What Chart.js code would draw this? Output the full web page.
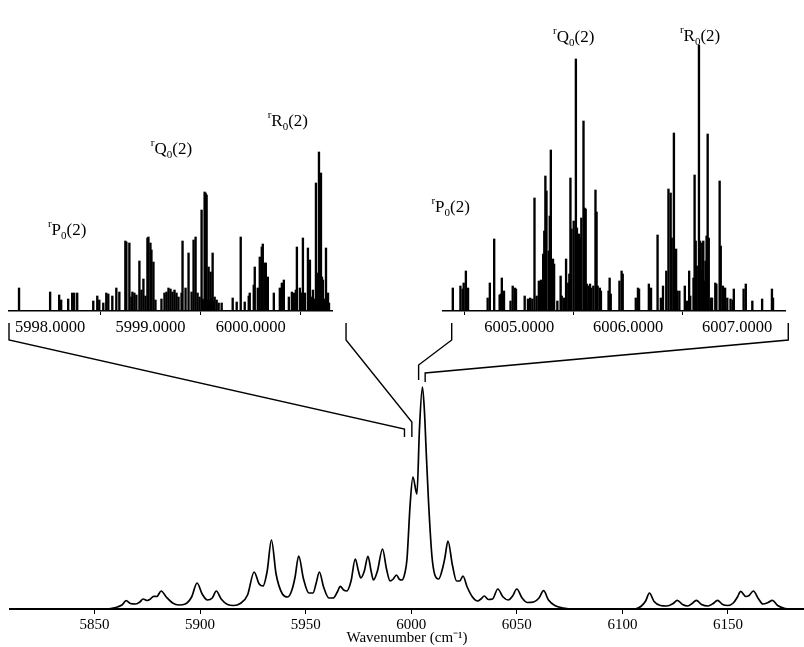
<!DOCTYPE html>
<html>
<head>
<meta charset="utf-8">
<script src="https://cdn.jsdelivr.net/npm/chart.js@4.4.1/dist/chart.umd.min.js"></script>
<style>
  body { margin: 0; background: #fff; }
  #wrap { position: relative; width: 804px; height: 647px; overflow: hidden; }
  canvas { position: absolute; }
</style>
</head>
<body>
<div id="wrap">
  <canvas id="mainChart" width="804" height="647" style="left:0;top:0"></canvas>
  <canvas id="leftInset" width="340" height="345" style="left:0;top:0"></canvas>
  <canvas id="rightInset" width="390" height="345" style="left:400px;top:0"></canvas>
</div>
<script>
const SERIF = "'Liberation Serif', 'Times New Roman', serif";

// ---- main spectrum: [wavenumber, intensity]
const spectrum = [
  [5810,0],[5856,0],[5860,1.5],[5863,4],[5865,8.3],[5867,5.5],[5869.5,5],[5871.5,7],[5873,10],
  [5875,8.5],[5876.5,10],[5878,12.7],[5879.5,12.5],[5881.6,18],[5884,12],[5887,6],[5890,4],
  [5893,5],[5896,12],[5898.6,26],[5901,15],[5903.5,9],[5905.8,11],[5907.7,18],[5910,10],
  [5913,4.5],[5916,3.5],[5919,5.5],[5922.5,14],[5925.6,37],[5928,25],[5929.8,23],[5931.8,38],
  [5933.8,69],[5936,35],[5939,15],[5941.5,12],[5943.5,19],[5945,32],[5946.7,53],[5949,30],
  [5951.5,16],[5953.5,16],[5955,26],[5956.5,37],[5958.5,22],[5961,11],[5963,11],[5965,17],
  [5966.4,22.7],[5968,19],[5969.5,18],[5971.5,28],[5973.5,50],[5975,38],[5976.1,31],[5977.8,38],
  [5979.5,52.7],[5981,38],[5982.1,29],[5984,38],[5986.4,60],[5988.3,40],[5990,28],[5991.5,30],
  [5993,34],[5994.5,29.5],[5995.6,29],[5997,36],[5998,50],[5999.5,105],[6000.8,132],[6002.7,115],
  [6003.9,180],[6005.3,222],[6006.2,200],[6007.1,157],[6008.2,107],[6009.8,53],[6011.2,34],
  [6013,30],[6015,42],[6016,52],[6017.4,68],[6019.5,44],[6021.5,28],[6023,28],[6024.5,33],
  [6026.5,22],[6029,12],[6031.5,8],[6033,10],[6034.6,13],[6036.5,9.5],[6038.5,10],[6041,20],
  [6043.5,12],[6046,9],[6048,13],[6050,20],[6052.5,11],[6055,6.5],[6058,7],[6060.5,11],
  [6062.7,18.3],[6065,9],[6068,3.5],[6072,1],[6077,0],[6106,0],[6109,3],[6111,8],[6112.8,16],
  [6115,7.5],[6118,3.5],[6121,3],[6124,5.5],[6126,8.7],[6128.5,4.5],[6131,3],[6133,5.5],
  [6135,8.7],[6137.5,4.5],[6140.5,3],[6143,5.5],[6145,8.7],[6147.5,4.5],[6150,3.5],[6152.5,6],
  [6154.5,12],[6156,17.7],[6158.5,12.5],[6160,13.5],[6162,18],[6164.5,10],[6166.5,5],[6169,6.5],
  [6171,8.7],[6173.5,3.5],[6177,0.5],[6180,0],[6186,0]
];
const mainTicks = [5850, 5900, 5950, 6000, 6050, 6100, 6150];
const mainRange = [5810, 6186];

// ---- left inset sticks [wavenumber, intensity]
const leftSticks = [
  [5997.69,23],[5998.00,19],[5998.09,16],[5998.11,11],[5998.18,12],[5998.22,18],[5998.24,18],
  [5998.27,18],[5998.43,10],[5998.47,15],[5998.49,11],[5998.53,8],[5998.56,18],[5998.58,17],
  [5998.62,15],[5998.66,23],[5998.69,19],[5998.75,70],[5998.76,69],[5998.79,68],[5998.81,14],
  [5998.82,19],[5998.84,18],[5998.86,16],[5998.89,50],[5998.91,21],[5998.93,32],[5998.95,15],
  [5998.97,73],[5998.98,74],[5999.00,68],[5999.01,61],[5999.03,49],[5999.05,11],[5999.11,12],
  [5999.14,18],[5999.16,19],[5999.18,23],[5999.20,22],[5999.22,19],[5999.24,21],[5999.26,18],
  [5999.28,14],[5999.31,18],[5999.32,70],[5999.35,23],[5999.38,58],[5999.41,19],[5999.43,71],
  [5999.45,74],[5999.47,18],[5999.49,14],[5999.51,101],[5999.52,12],[5999.53,10],[5999.54,119],
  [5999.55,118],[5999.56,116],[5999.57,11],[5999.58,44],[5999.59,10],[5999.60,39],[5999.61,12],
  [5999.62,58],[5999.63,9],[5999.64,14],[5999.66,11],[5999.68,8],[5999.71,8],[5999.82,13],
  [5999.86,9],[5999.90,74],[5999.94,9],[5999.98,15],[5999.99,18],[6000.03,26],[6000.04,44],
  [6000.07,23],[6000.09,54],[6000.11,64],[6000.12,67],[6000.14,48],[6000.15,48],[6000.17,34],
  [6000.23,18],[6000.29,23],[6000.31,28],[6000.33,31],[6000.38,14],[6000.41,19],[6000.43,18],
  [6000.45,21],[6000.46,64],[6000.49,23],[6000.51,18],[6000.52,73],[6000.54,18],[6000.57,63],
  [6000.59,51],[6000.60,14],[6000.62,21],[6000.63,12],[6000.65,128],[6000.66,16],[6000.67,38],
  [6000.68,159],[6000.69,14],[6000.70,138],[6000.71,34],[6000.72,31],[6000.73,12],[6000.75,63],
  [6000.76,10],[6000.77,18],[6000.78,8]
];
const leftTicks = [5998, 5999, 6000];
const leftRange = [5997.59, 6000.81];

// ---- right inset sticks [wavenumber, intensity]
const rightSticks = [
  [6004.39,23],[6004.46,25],[6004.48,22],[6004.49,28],[6004.51,40],[6004.52,13],[6004.53,23],
  [6004.71,13],[6004.73,28],[6004.77,72],[6004.82,16],[6004.83,17],[6004.84,33],[6004.86,20],
  [6004.92,10],[6004.94,25],[6004.96,23],[6004.97,22],[6005.05,15],[6005.08,12],[6005.10,13],
  [6005.12,12],[6005.14,113],[6005.16,15],[6005.18,30],[6005.20,31],[6005.22,57],[6005.23,80],
  [6005.24,135],[6005.25,120],[6005.27,60],[6005.28,95],[6005.29,161],[6005.31,52],[6005.32,47],
  [6005.35,10],[6005.38,35],[6005.39,15],[6005.41,13],[6005.43,52],[6005.45,28],[6005.46,37],
  [6005.47,133],[6005.48,82],[6005.50,90],[6005.52,252],[6005.53,83],[6005.55,77],[6005.56,73],
  [6005.57,93],[6005.59,190],[6005.60,103],[6005.61,102],[6005.62,27],[6005.64,25],[6005.65,27],
  [6005.66,23],[6005.68,25],[6005.70,121],[6005.71,99],[6005.72,25],[6005.74,23],[6005.75,20],
  [6005.82,20],[6005.83,33],[6005.84,17],[6005.92,30],[6005.94,40],[6005.95,37],[6006.07,13],
  [6006.09,23],[6006.10,22],[6006.19,27],[6006.21,23],[6006.27,76],[6006.30,13],[6006.32,25],
  [6006.35,40],[6006.37,122],[6006.39,118],[6006.40,73],[6006.42,178],[6006.44,62],[6006.45,20],
  [6006.47,20],[6006.52,25],[6006.54,10],[6006.56,40],[6006.57,15],[6006.60,33],[6006.61,136],
  [6006.62,70],[6006.63,45],[6006.65,266],[6006.66,70],[6006.67,40],[6006.68,68],[6006.69,70],
  [6006.70,30],[6006.71,50],[6006.72,75],[6006.73,177],[6006.74,73],[6006.76,13],[6006.77,13],
  [6006.80,28],[6006.81,27],[6006.84,130],[6006.85,65],[6006.87,25],[6006.89,23],[6006.91,13],
  [6006.94,12],[6006.96,11],[6006.97,22],[6007.06,22],[6007.08,27],[6007.14,10],[6007.23,12],
  [6007.32,22],[6007.33,13]
];
const rightTicks = [6005, 6006, 6007];
const rightRange = [6004.30, 6007.44];

// ---- branch labels: [sup, letter, sub, rest, x, y]
const leftLabels = [
  ["r", "P", "0", "(2)", 5998.17, 82],
  ["r", "Q", "0", "(2)", 5999.21, 163],
  ["r", "R", "0", "(2)", 6000.37, 191]
];
const rightLabels = [
  ["r", "P", "0", "(2)", 6004.37, 105],
  ["r", "Q", "0", "(2)", 6005.50, 275],
  ["r", "R", "0", "(2)", 6006.66, 276]
];

// ---- zoom connectors: inset-side wavenumbers, main-side wavenumbers, main-side heights
const leftZoomTop = [5997.59, 6000.95];
const rightZoomTop = [6004.38, 6007.47];
const leftZoomFoot = [5996.8, 6000.3];
const rightZoomFoot = [6003.5, 6006.6];
const leftFootH = [[180, 172], [187, 172]];
const rightFootH = [[244, 229], [236, 227]];

const labelPlugin = {
  id: "branchLabels",
  afterDraw(chart, args, opts) {
    const ctx = chart.ctx, xs = chart.scales.x, ys = chart.scales.y;
    ctx.save();
    ctx.fillStyle = "#000";
    ctx.textBaseline = "alphabetic";
    opts.items.forEach(([sup, letter, sub, rest, x, y]) => {
      const big = "17px " + SERIF, small = "11px " + SERIF;
      ctx.font = small; const wSup = ctx.measureText(sup).width, wSub = ctx.measureText(sub).width;
      ctx.font = big; const wL = ctx.measureText(letter).width, wR = ctx.measureText(rest).width;
      let px = xs.getPixelForValue(x) - (wSup + wL + wSub + wR) / 2;
      const py = ys.getPixelForValue(y) + 6;
      ctx.font = small; ctx.fillText(sup, px, py - 8); px += wSup;
      ctx.font = big; ctx.fillText(letter, px, py); px += wL;
      ctx.font = small; ctx.fillText(sub, px, py + 4); px += wSub;
      ctx.font = big; ctx.fillText(rest, px, py);
    });
    ctx.restore();
  }
};

function makeInset(id, sticks, ticks, range, labels, pad) {
  return new Chart(document.getElementById(id), {
    type: "bar",
    data: {
      datasets: [{
        data: sticks.map(([x, h]) => ({ x: x, y: h })),
        backgroundColor: "#000",
        barThickness: 1.7,
        grouped: false
      }]
    },
    plugins: [labelPlugin],
    options: {
      responsive: false,
      animation: false,
      events: [],
      layout: { padding: pad },
      plugins: { legend: { display: false }, tooltip: { enabled: false }, branchLabels: { items: labels } },
      scales: {
        x: {
          type: "linear",
          min: range[0], max: range[1],
          offset: false,
          afterBuildTicks: (s) => { s.ticks = ticks.map(v => ({ value: v })); },
          afterFit: (s) => { s.height = 34; },
          grid: { display: true, drawOnChartArea: false, tickLength: 4, color: "#000", lineWidth: 1 },
          border: { color: "#000", width: 1.6 },
          ticks: {
            color: "#000", font: { family: SERIF, size: 16.5 }, padding: 3,
            maxRotation: 0, autoSkip: false,
            callback: (v) => Number(v).toFixed(4)
          }
        },
        y: { display: false, min: 0, max: 300 }
      }
    }
  });
}

const leftChart = makeInset("leftInset", leftSticks, leftTicks, leftRange, leftLabels,
  { top: 11, left: 9, right: 8, bottom: 0 });
const rightChart = makeInset("rightInset", rightSticks, rightTicks, rightRange, rightLabels,
  { top: 11, left: 43, right: 5, bottom: 0 });

const connectorPlugin = {
  id: "zoomConnectors",
  afterDraw(chart) {
    const ctx = chart.ctx, xs = chart.scales.x, ys = chart.scales.y;
    ctx.save();
    ctx.strokeStyle = "#000";
    ctx.lineWidth = 1.4;
    const groups = [
      [leftChart, 0, leftZoomTop, leftZoomFoot, leftFootH],
      [rightChart, 400, rightZoomTop, rightZoomFoot, rightFootH]
    ];
    groups.forEach(([inset, offX, tops, foots, footH]) => {
      const base = inset.chartArea.bottom;
      tops.forEach((t, i) => {
        const tx = offX + inset.scales.x.getPixelForValue(t);
        const fx = xs.getPixelForValue(foots[i]);
        ctx.beginPath();
        ctx.moveTo(tx, base + 12);
        ctx.lineTo(tx, base + 29);
        ctx.lineTo(fx, ys.getPixelForValue(footH[i][0]));
        ctx.lineTo(fx, ys.getPixelForValue(footH[i][1]));
        ctx.stroke();
      });
    });
    ctx.restore();
  }
};

new Chart(document.getElementById("mainChart"), {
  type: "line",
  data: {
    datasets: [{
      data: spectrum.map(([x, y]) => ({ x: x, y: y })),
      borderColor: "#000",
      borderWidth: 1.7,
      pointRadius: 0,
      fill: false,
      cubicInterpolationMode: "monotone"
    }]
  },
  plugins: [connectorPlugin],
  options: {
    responsive: false,
    animation: false,
    events: [],
    layout: { padding: { top: 359, left: 10, right: 0, bottom: 0 } },
    plugins: { legend: { display: false }, tooltip: { enabled: false } },
    scales: {
      x: {
        type: "linear",
        min: mainRange[0], max: mainRange[1],
        afterBuildTicks: (s) => { s.ticks = mainTicks.map(v => ({ value: v })); },
        afterFit: (s) => { s.height = 38; },
        grid: { display: true, drawOnChartArea: false, tickLength: 5, color: "#000" },
        border: { color: "#000", width: 2 },
        ticks: {
          color: "#000", font: { family: SERIF, size: 15 }, padding: 2,
          maxRotation: 0, autoSkip: false, callback: (v) => String(v)
        },
        title: {
          display: true, text: "Wavenumber (cm\u207B\u00B9)", color: "#000",
          font: { family: SERIF, size: 15 }, padding: { top: 0, bottom: 0 }
        }
      },
      y: { display: false, min: 0, max: 250 }
    }
  }
});
</script>
</body>
</html>
